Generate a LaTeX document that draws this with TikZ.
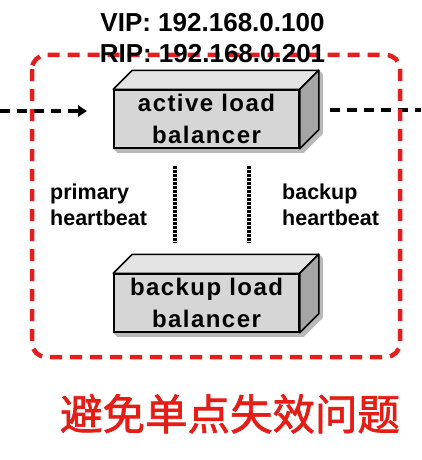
\documentclass[tikz,border=0pt]{standalone}
\usepackage{fontspec}
\setmainfont{Liberation Sans}
\newfontfamily\cjk[FakeBold=1.6]{Noto Sans CJK SC}
\usetikzlibrary{arrows.meta,calc}
\definecolor{redline}{RGB}{226,30,30}
\definecolor{redtext}{RGB}{228,30,22}
\definecolor{frontgray}{RGB}{214,214,214}
\definecolor{topgray}{RGB}{228,228,228}
\definecolor{sidegray}{RGB}{165,165,165}
\begin{document}
\begin{tikzpicture}[x=1pt,y=-1pt,
  frontface/.style={draw=black,line width=1.5pt,fill=frontgray,minimum width=185pt,minimum height=58pt,inner sep=0pt,align=center,
    font=\fontsize{24}{32}\selectfont\bfseries\addfontfeatures{LetterSpace=6}},
  topface/.style={draw=black,line width=1.5pt,fill=topgray,line join=round},
  sideface/.style={draw=black,line width=1.5pt,fill=sidegray,line join=round},
  boxshadow/.style={fill=gray!55},
  reddash/.style={draw=redline,line width=4.5pt,dash pattern=on 12pt off 8pt,rounded corners=14pt},
  blkdash/.style={draw=black,line width=3.5pt,dash pattern=on 10pt off 7pt},
  hbline/.style={draw=black,line width=4pt,dash pattern=on 3.2pt off 0.8pt},
  hblabel/.style={font=\fontsize{21.5}{26}\selectfont\bfseries,align=left,inner sep=0pt,anchor=north west},
  iplabel/.style={font=\fontsize{26}{30}\selectfont\bfseries,inner sep=0pt,anchor=base}]
\useasboundingbox (0,0) rectangle (421,460);
\fill[white] (0,0) rectangle (421,460);

% boxes (front faces as nodes)
\node[frontface] (act) at (206.5,119) {active load\\balancer};
\node[frontface] (bak) at (206.5,303) {backup load\\balancer};

\foreach \b in {act,bak}{
  \fill[boxshadow] ($(\b.south west)+(4,4)$) -- ($(\b.south east)+(4,4)$) -- ($(\b.south east)+(23,-15)$)
     -- ($(\b.north east)+(23,-15)$) -- ($(\b.north east)+(19,-19)$) -- ($(\b.south east)+(19,-19)$) -- (\b.south east) -- (\b.south west) -- cycle;
  \draw[topface] (\b.north west) -- ++(19,-19) -- ($(\b.north east)+(19,-19)$) -- (\b.north east) -- cycle;
  \draw[sideface] (\b.north east) -- ++(19,-19) -- ($(\b.south east)+(19,-19)$) -- (\b.south east) -- cycle;
}
\node[frontface] at (act) {active load\\balancer};
\node[frontface] at (bak) {backup load\\balancer};

% heartbeat lines
\draw[hbline,shorten <=17pt,shorten >=31pt] (act.south -| 175,0) -- (bak.north -| 175,0);
\draw[hbline,shorten <=17pt,shorten >=31pt] (act.south -| 249,0) -- (bak.north -| 249,0);

% black dashed connectors
\coordinate (inL) at (0,111);
\coordinate (inR) at (87,111);
\coordinate (outL) at (330,110);
\coordinate (outR) at (421,110);
\draw[blkdash,-{Triangle[length=9pt,width=11pt]}] (inL) -- (inR);
\draw[blkdash] (outL) -- (outR);

% red dashed frame
\draw[reddash] (32,55) rectangle (400,357);

% labels
\node[iplabel] (vip) at (212.5,32) {VIP: 192.168.0.100};
\node[iplabel] (rip) at (212.5,63) {RIP: 192.168.0.201};
\node[hblabel] (prim) at (50,184) {primary\\heartbeat};
\node[hblabel] (back) at (282,184) {backup\\heartbeat};
\node[font=\cjk\fontsize{42.5}{46}\selectfont,text=redtext,inner sep=0pt,anchor=base] (note) at (230,430) {避免单点失效问题};
\end{tikzpicture}
\end{document}
